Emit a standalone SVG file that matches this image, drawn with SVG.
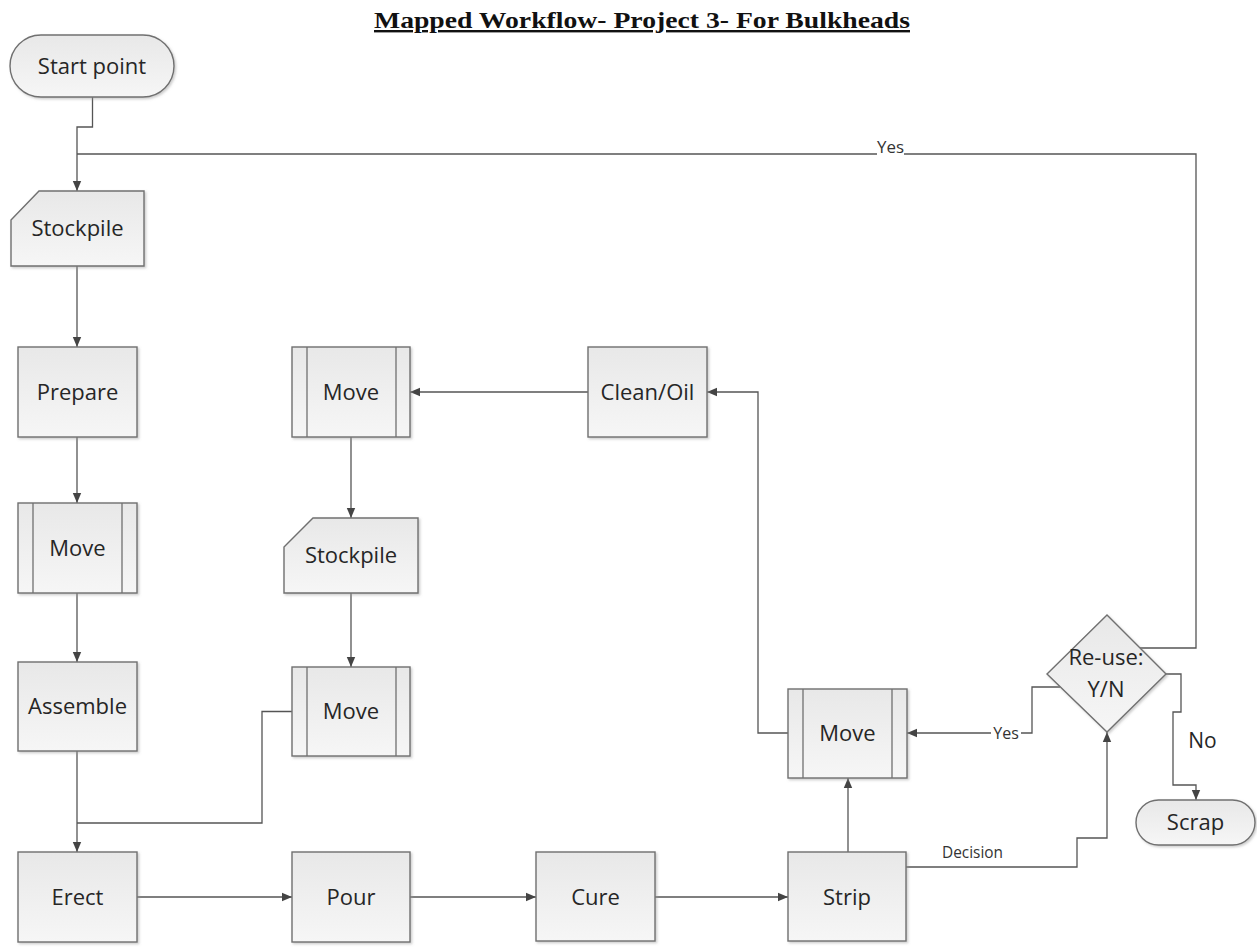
<svg xmlns="http://www.w3.org/2000/svg" width="1257" height="947" viewBox="0 0 1257 947">
  <defs>
    <linearGradient id="fillGrad" x1="0" y1="0" x2="0" y2="1">
      <stop offset="0" stop-color="#e8e8e8"/>
      <stop offset="1" stop-color="#f6f6f6"/>
    </linearGradient>
    <filter id="shadow" x="-10%" y="-10%" width="130%" height="130%">
      <feDropShadow dx="1.5" dy="1.5" stdDeviation="0.8" flood-color="#9a9a9a" flood-opacity="0.5"/>
    </filter>
    <marker id="arrow" markerUnits="userSpaceOnUse" markerWidth="10" markerHeight="10" refX="10" refY="5" orient="auto">
      <path d="M0,0.8 L10,5 L0,9.2 Z" fill="#444"/>
    </marker>
    <style>
      .shape { fill: url(#fillGrad); stroke: #707070; stroke-width: 1.4; filter: url(#shadow); }
      .bar { fill: none; stroke: #707070; stroke-width: 1.3; }
      .label { font-family: "Open Sans", "Liberation Sans", sans-serif; font-size: 22px; fill: #262626; text-anchor: middle; }
      .small { font-family: "Open Sans", "Liberation Sans", sans-serif; font-size: 15px; fill: #333; text-anchor: middle; }
      .edge { fill: none; stroke: #555; stroke-width: 1.3; }
      .title { font-family: "Liberation Serif", "DejaVu Serif", serif; font-weight: bold; font-size: 24px; fill: #111; text-anchor: middle; text-decoration: underline; }
    </style>
  </defs>

  <rect width="1257" height="947" fill="#ffffff"/>

  <text class="title" x="642" y="28" textLength="536" lengthAdjust="spacingAndGlyphs">Mapped Workflow- Project 3- For Bulkheads</text>

  <!-- connectors -->
  <g id="connectors">
    <path class="edge" d="M92.5,97 V127 H77 V191" marker-end="url(#arrow)"/>
    <path class="edge" d="M1140,648 H1196 V154 H904"/>
    <path class="edge" d="M877,154 H77"/>
    <text class="small" x="890.5" y="153" style="font-size:17px" textLength="27" lengthAdjust="spacingAndGlyphs">Yes</text>
    <path class="edge" d="M77,266 V347" marker-end="url(#arrow)"/>
    <path class="edge" d="M77,437 V503" marker-end="url(#arrow)"/>
    <path class="edge" d="M77,593 V662" marker-end="url(#arrow)"/>
    <path class="edge" d="M77,751 V852" marker-end="url(#arrow)"/>
    <path class="edge" d="M292,711.5 H262 V823 H77"/>
    <path class="edge" d="M137,897 H292" marker-end="url(#arrow)"/>
    <path class="edge" d="M410,897 H536" marker-end="url(#arrow)"/>
    <path class="edge" d="M655,897 H788" marker-end="url(#arrow)"/>
    <path class="edge" d="M848,852 V778" marker-end="url(#arrow)"/>
    <path class="edge" d="M906,867 H1077 V838 H1107 V732" marker-end="url(#arrow)"/>
    <text class="small" x="972.5" y="858" style="font-size:16px" textLength="61" lengthAdjust="spacingAndGlyphs">Decision</text>
    <path class="edge" d="M1060,687 H1032 V733 H1021"/>
    <path class="edge" d="M991,733 H907" marker-end="url(#arrow)"/>
    <text class="small" x="1006" y="739" style="font-size:16px">Yes</text>
    <path class="edge" d="M1166,674 H1181 V712 H1173 V785 H1196 V800" marker-end="url(#arrow)"/>
    <text class="label" x="1202.5" y="748" style="font-size:21px">No</text>
    <path class="edge" d="M788,733 H758 V392 H707" marker-end="url(#arrow)"/>
    <path class="edge" d="M588,392 H410" marker-end="url(#arrow)"/>
    <path class="edge" d="M351,437 V518" marker-end="url(#arrow)"/>
    <path class="edge" d="M351,593 V667" marker-end="url(#arrow)"/>
  </g>

  <!-- nodes -->
  <g id="start">
    <rect class="shape" x="10" y="35" width="164" height="62" rx="31" ry="31"/>
    <text class="label" x="92" y="74">Start point</text>
  </g>
  <g id="stockpile-1">
    <path class="shape" d="M11,220 L39,191 H144 V266 H11 Z"/>
    <text class="label" x="77.5" y="236">Stockpile</text>
  </g>
  <g id="prepare">
    <rect class="shape" x="18" y="347" width="119" height="90"/>
    <text class="label" x="77.5" y="400">Prepare</text>
  </g>
  <g id="move-1">
    <rect class="shape" x="18" y="503" width="119" height="90"/>
    <path class="bar" d="M33,503 V593 M122,503 V593"/>
    <text class="label" x="77.5" y="556">Move</text>
  </g>
  <g id="assemble">
    <rect class="shape" x="18" y="662" width="119" height="89"/>
    <text class="label" x="77.5" y="714">Assemble</text>
  </g>
  <g id="erect">
    <rect class="shape" x="18" y="852" width="119" height="90"/>
    <text class="label" x="77.5" y="905">Erect</text>
  </g>
  <g id="move-2">
    <rect class="shape" x="292" y="347" width="118" height="90"/>
    <path class="bar" d="M307,347 V437 M396,347 V437"/>
    <text class="label" x="351" y="400">Move</text>
  </g>
  <g id="stockpile-2">
    <path class="shape" d="M284,547 L313,518 H418 V593 H284 Z"/>
    <text class="label" x="351" y="563">Stockpile</text>
  </g>
  <g id="move-3">
    <rect class="shape" x="292" y="667" width="118" height="89"/>
    <path class="bar" d="M307,667 V756 M396,667 V756"/>
    <text class="label" x="351" y="719">Move</text>
  </g>
  <g id="pour">
    <rect class="shape" x="292" y="852" width="118" height="90"/>
    <text class="label" x="351" y="905">Pour</text>
  </g>
  <g id="clean-oil">
    <rect class="shape" x="588" y="347" width="119" height="90"/>
    <text class="label" x="647.5" y="400">Clean/Oil</text>
  </g>
  <g id="cure">
    <rect class="shape" x="536" y="852" width="119" height="89"/>
    <text class="label" x="595.5" y="905">Cure</text>
  </g>
  <g id="strip">
    <rect class="shape" x="788" y="852" width="118" height="89"/>
    <text class="label" x="847" y="905">Strip</text>
  </g>
  <g id="move-4">
    <rect class="shape" x="788" y="689" width="119" height="89"/>
    <path class="bar" d="M803,689 V778 M892,689 V778"/>
    <text class="label" x="847.5" y="741">Move</text>
  </g>
  <g id="reuse-decision">
    <polygon class="shape" points="1107,615 1166,674 1107,732 1047,674"/>
    <text class="label" x="1106" y="665">Re-use:</text>
    <text class="label" x="1106" y="697">Y/N</text>
  </g>
  <g id="scrap">
    <rect class="shape" x="1136" y="800" width="119" height="45" rx="22.5" ry="22.5"/>
    <text class="label" x="1195.5" y="830">Scrap</text>
  </g>
</svg>
